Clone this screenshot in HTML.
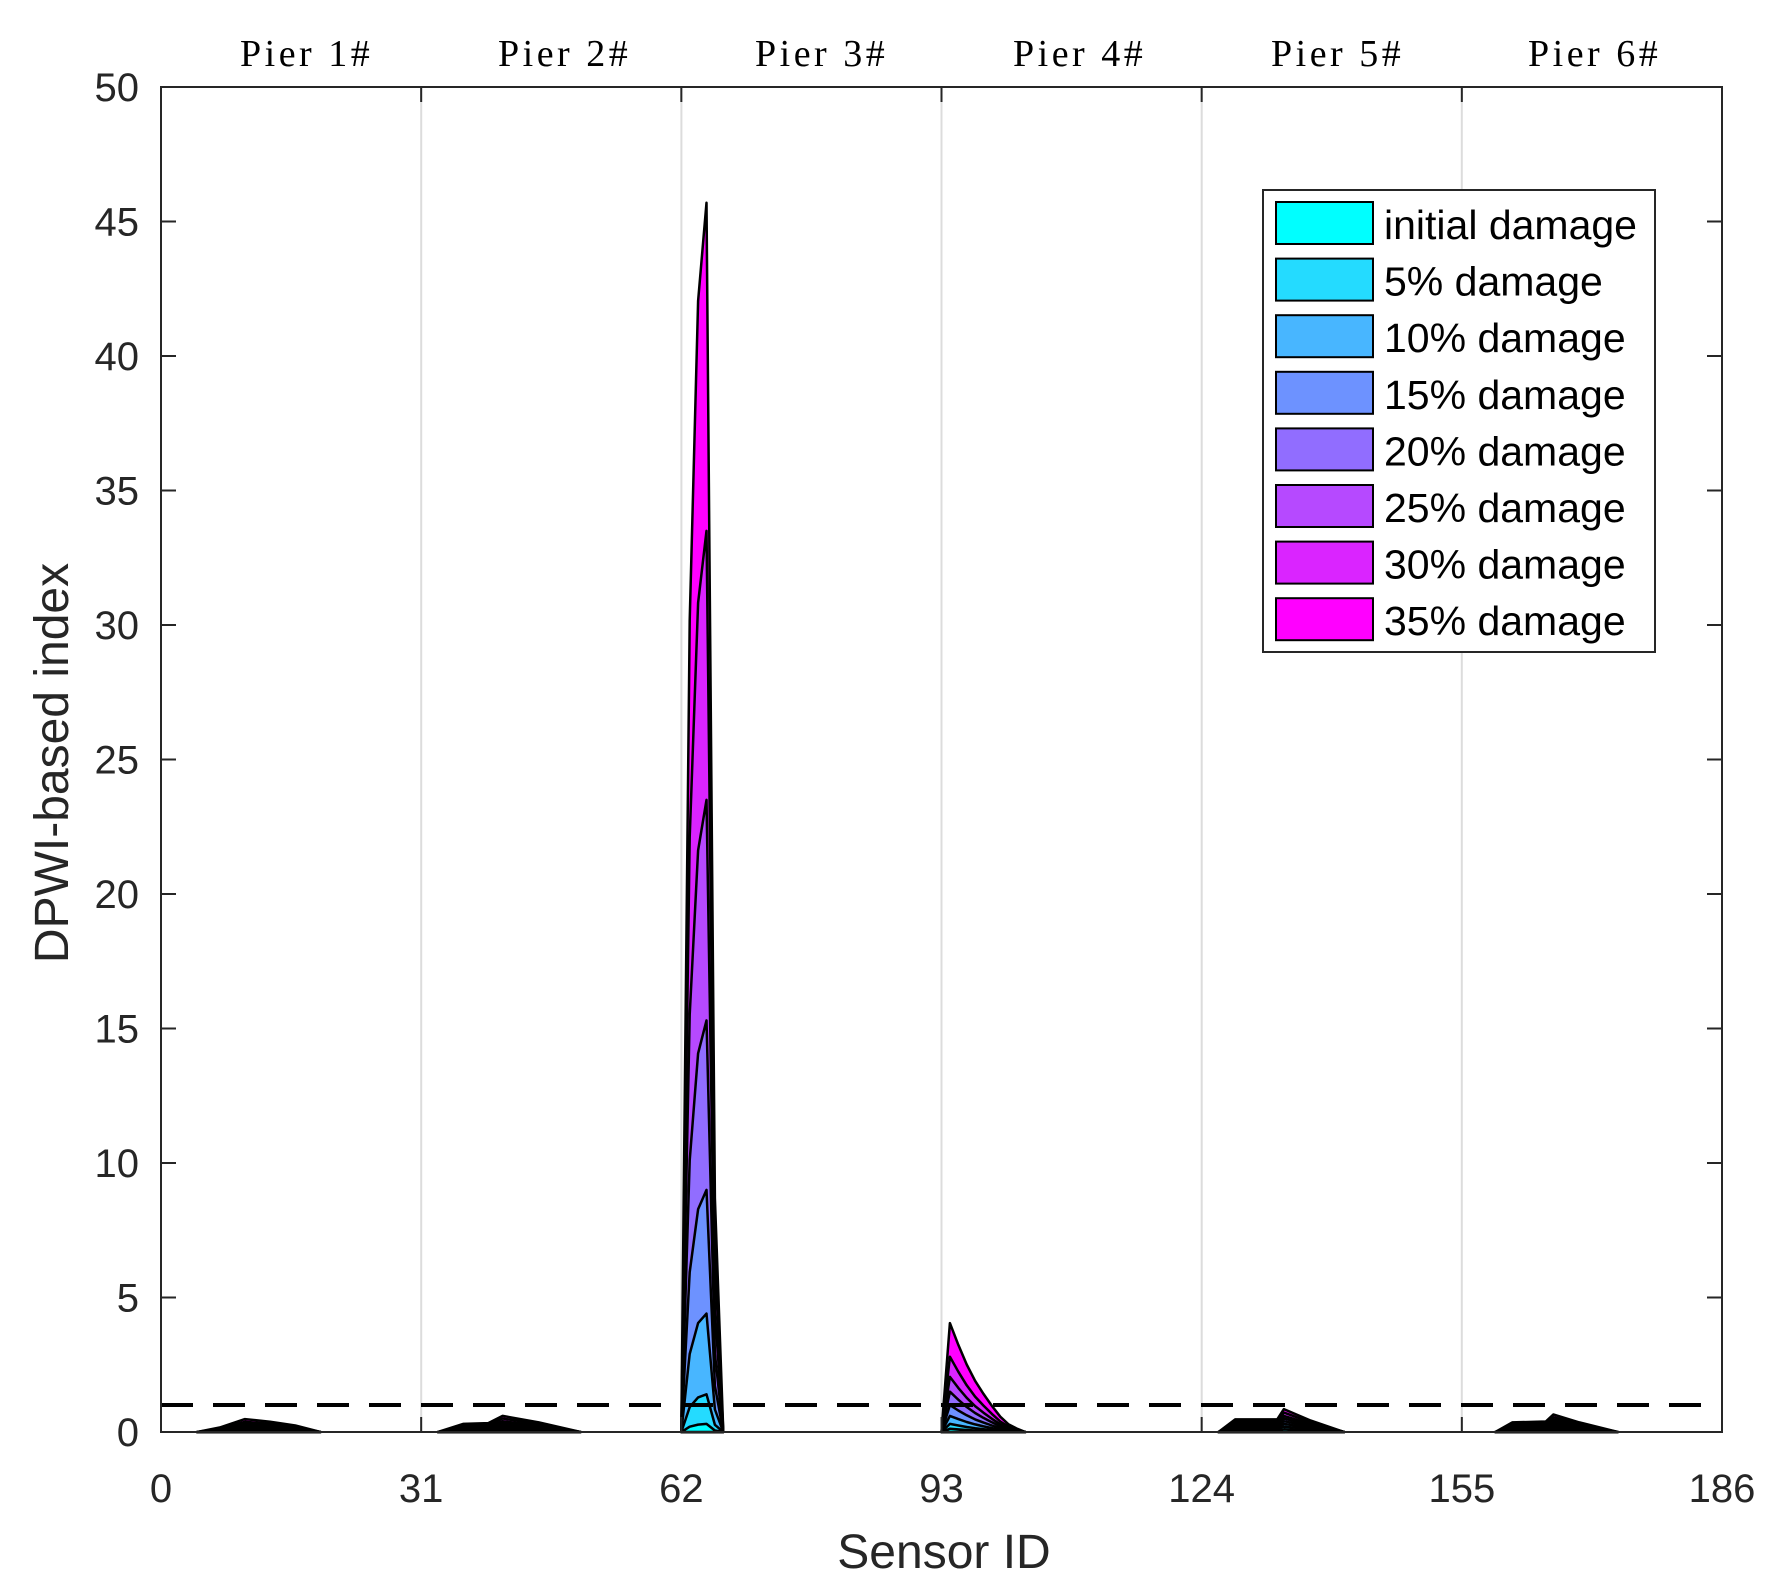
<!DOCTYPE html>
<html><head><meta charset="utf-8"><style>
html,body{margin:0;padding:0;background:#fff;}
svg{display:block;}
text{font-family:"Liberation Sans",sans-serif;fill:#262626;}
</style></head><body>
<svg id="s" width="1779" height="1595" viewBox="0 0 1779 1595" xmlns="http://www.w3.org/2000/svg">
<rect width="1779" height="1595" fill="#fff"/>
<g id="grid" stroke="#dcdcdc" stroke-width="2">
<line x1="421.2" y1="87" x2="421.2" y2="1432"/>
<line x1="681.4" y1="87" x2="681.4" y2="1432"/>
<line x1="941.5" y1="87" x2="941.5" y2="1432"/>
<line x1="1201.7" y1="87" x2="1201.7" y2="1432"/>
<line x1="1461.8" y1="87" x2="1461.8" y2="1432"/>
</g>
<g id="areas" stroke="#000" stroke-width="2.5" stroke-linejoin="round"></g>
<line x1="161" y1="1405" x2="1722" y2="1405" stroke="#000" stroke-width="4" stroke-dasharray="32 20"/>
<g id="ticks" stroke="#262626" stroke-width="2"></g>
<rect x="161" y="87" width="1561" height="1345" fill="none" stroke="#262626" stroke-width="2"/>
<g id="labels" font-size="40"></g>
<text x="51" y="763" font-size="48" text-anchor="middle" transform="rotate(-90 51 763)" dy="17">DPWI-based index</text>
<text x="944" y="1568" font-size="48" text-anchor="middle">Sensor ID</text>
<g font-size="38" letter-spacing="3.5">
<text x="240" y="66" style="font-family:'Liberation Serif',serif;fill:#000">Pier 1#</text>
<text x="498" y="66" style="font-family:'Liberation Serif',serif;fill:#000">Pier 2#</text>
<text x="755" y="66" style="font-family:'Liberation Serif',serif;fill:#000">Pier 3#</text>
<text x="1013" y="66" style="font-family:'Liberation Serif',serif;fill:#000">Pier 4#</text>
<text x="1271" y="66" style="font-family:'Liberation Serif',serif;fill:#000">Pier 5#</text>
<text x="1528" y="66" style="font-family:'Liberation Serif',serif;fill:#000">Pier 6#</text>
</g>
<rect x="1263" y="190" width="392" height="462" fill="#fff" stroke="#262626" stroke-width="2"/>
<g id="legend" font-size="41"></g>
</svg>
<script>
var NS="http://www.w3.org/2000/svg";
function X(s){return 161+s*8.3925;}
function Y(v){return 1432-v*26.9;}
var cols=["#00ffff","#24dbff","#48b6ff","#6d92ff","#916dff","#b649ff","#da24ff","#ff00ff"];
var names=["initial damage","5% damage","10% damage","15% damage","20% damage","25% damage","30% damage","35% damage"];
var bumps=[
 {p:[[4.3,0],[7,0.35],[10,1],[13,0.8],[16,0.5],[19,0]],pk:[0.05,0.1,0.15,0.2,0.25,0.3,0.38,0.48]},
 {p:[[33,0],[36,0.5],[39,0.55],[40.7,1],[45,0.6],[50,0]],pk:[0.06,0.12,0.18,0.25,0.32,0.4,0.5,0.6]},
 {p:[[62,0],[63,0.66],[64,0.92],[65,1],[66,0.19],[67,0]],pk:[0.3,1.4,4.4,9.0,15.3,23.5,33.5,45.7]},
 {p:[[93,0],[94,1],[95,0.8],[96,0.62],[97,0.47],[98,0.35],[99,0.24],[100,0.14],[101,0.07],[102,0.03],[103,0]],pk:[0.12,0.3,0.6,1.0,1.5,2.05,2.8,4.05]},
 {p:[[126,0],[128,0.55],[133,0.55],[133.8,1],[137,0.5],[141,0]],pk:[0.1,0.2,0.3,0.4,0.5,0.6,0.72,0.85]},
 {p:[[159,0],[161,0.55],[165,0.6],[165.9,1],[169,0.55],[173.6,0]],pk:[0.08,0.15,0.22,0.3,0.38,0.46,0.55,0.65]}
];
var g=document.getElementById("areas");
for(var k=7;k>=0;k--){
 bumps.forEach(function(b){
  var pts=b.p.map(function(q){return X(q[0]).toFixed(1)+","+Y(q[1]*b.pk[k]).toFixed(1);});
  var pl=document.createElementNS(NS,"polygon");
  pl.setAttribute("points",pts.join(" "));pl.setAttribute("fill",cols[k]);
  g.appendChild(pl);
 });
}
var t=document.getElementById("ticks"),L=document.getElementById("labels");
function ln(a,b,c,d){var l=document.createElementNS(NS,"line");l.setAttribute("x1",a);l.setAttribute("y1",b);l.setAttribute("x2",c);l.setAttribute("y2",d);t.appendChild(l);}
function tx(x,y,s,anc){var e=document.createElementNS(NS,"text");e.setAttribute("x",x);e.setAttribute("y",y);e.setAttribute("text-anchor",anc);e.textContent=s;L.appendChild(e);}
for(var i=0;i<=6;i++){var s=i*31,x=X(s);ln(x,1432,x,1417);ln(x,87,x,102);tx(x,1502,""+s,"middle");}
for(var v=0;v<=50;v+=5){var y=Y(v);ln(161,y,176,y);ln(1722,y,1707,y);tx(139,y+14,""+v,"end");}
var lg=document.getElementById("legend");
for(var j=0;j<8;j++){var yy=202+j*56.6;
 var r=document.createElementNS(NS,"rect");r.setAttribute("x",1276);r.setAttribute("y",yy);r.setAttribute("width",97);r.setAttribute("height",42);r.setAttribute("fill",cols[j]);r.setAttribute("stroke","#000");r.setAttribute("stroke-width","2");lg.appendChild(r);
 var e=document.createElementNS(NS,"text");e.setAttribute("x",1384);e.setAttribute("y",yy+37);e.style.fill="#000";e.textContent=names[j];lg.appendChild(e);}
</script>
</body></html>
